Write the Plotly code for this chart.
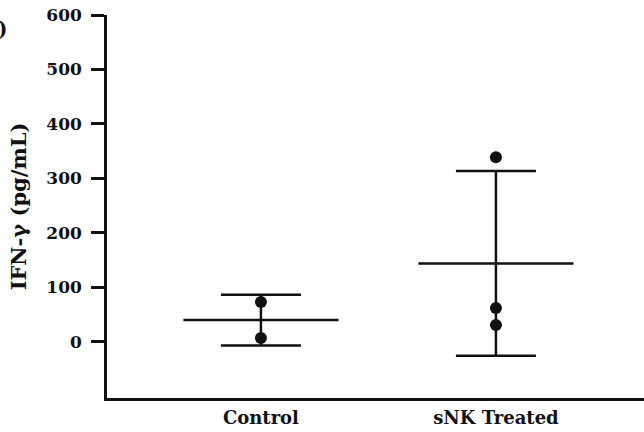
import plotly.graph_objects as go

categories = ["Control", "sNK Treated"]
control_values = [73, 7]
snk_values = [339, 62, 31]
group_means = [40, 144]
group_sd = [46.7, 169.6]
y_ticks = [0, 100, 200, 300, 400, 500, 600]

FONT = "DejaVu Serif"
INK = "#111111"
MEAN_HALF = 0.33

fig = go.Figure()

# individual points
pts_x, pts_y = [], []
for i, vals in enumerate([control_values, snk_values]):
    for v in vals:
        pts_x.append(i)
        pts_y.append(v)
fig.add_trace(go.Scatter(x=pts_x, y=pts_y, mode="markers",
                         marker=dict(color=INK, size=12, line=dict(width=0)),
                         showlegend=False, hoverinfo="skip"))

# error bars (mean ± SD)
fig.add_trace(go.Scatter(x=list(range(len(categories))), y=group_means, mode="markers",
                         marker=dict(size=1, color="rgba(0,0,0,0)"),
                         error_y=dict(type="data", array=group_sd, visible=True,
                                      color=INK, thickness=2.5, width=40),
                         showlegend=False, hoverinfo="skip"))

# mean lines
mx, my = [], []
for i, m in enumerate(group_means):
    mx += [i - MEAN_HALF, i + MEAN_HALF, None]
    my += [m, m, None]
fig.add_trace(go.Scatter(x=mx, y=my, mode="lines",
                         line=dict(color=INK, width=2.5),
                         showlegend=False, hoverinfo="skip"))

fig.add_annotation(text="<b>)</b>", xref="paper", yref="paper", x=0, y=1,
                   xshift=-111, yshift=-14, xanchor="left", yanchor="middle",
                   showarrow=False, font=dict(family=FONT, size=20, color=INK))

fig.update_layout(
    width=644, height=432,
    margin=dict(l=107, r=0, t=15, b=34),
    paper_bgcolor="white", plot_bgcolor="white",
    font=dict(family=FONT, size=17, color=INK),
    xaxis=dict(range=[-0.655, 1.63], tickvals=list(range(len(categories))),
               ticktext=["<b>%s</b>" % c for c in categories],
               showline=True, linecolor=INK, linewidth=2.5, ticks="",
               showgrid=False, zeroline=False, ticklabelstandoff=2,
               tickfont=dict(family=FONT, size=18, color=INK)),
    yaxis=dict(range=[-103, 600], tickvals=y_ticks,
               ticktext=["<b>%d</b>" % t for t in y_ticks],
               showline=True, linecolor=INK, linewidth=2.5,
               ticks="outside", ticklen=13, tickwidth=2.5, tickcolor=INK,
               showgrid=False, zeroline=False, ticklabelstandoff=6,
               tickfont=dict(family=FONT, size=17, color=INK),
               title=dict(text="<b>IFN-γ (pg/mL)</b>", standoff=14,
                          font=dict(family=FONT, size=21, color=INK))),
)

fig.write_html("out.html", config={"displayModeBar": False},
               post_script="document.body.style.margin='0px';document.body.style.overflow='hidden';")
